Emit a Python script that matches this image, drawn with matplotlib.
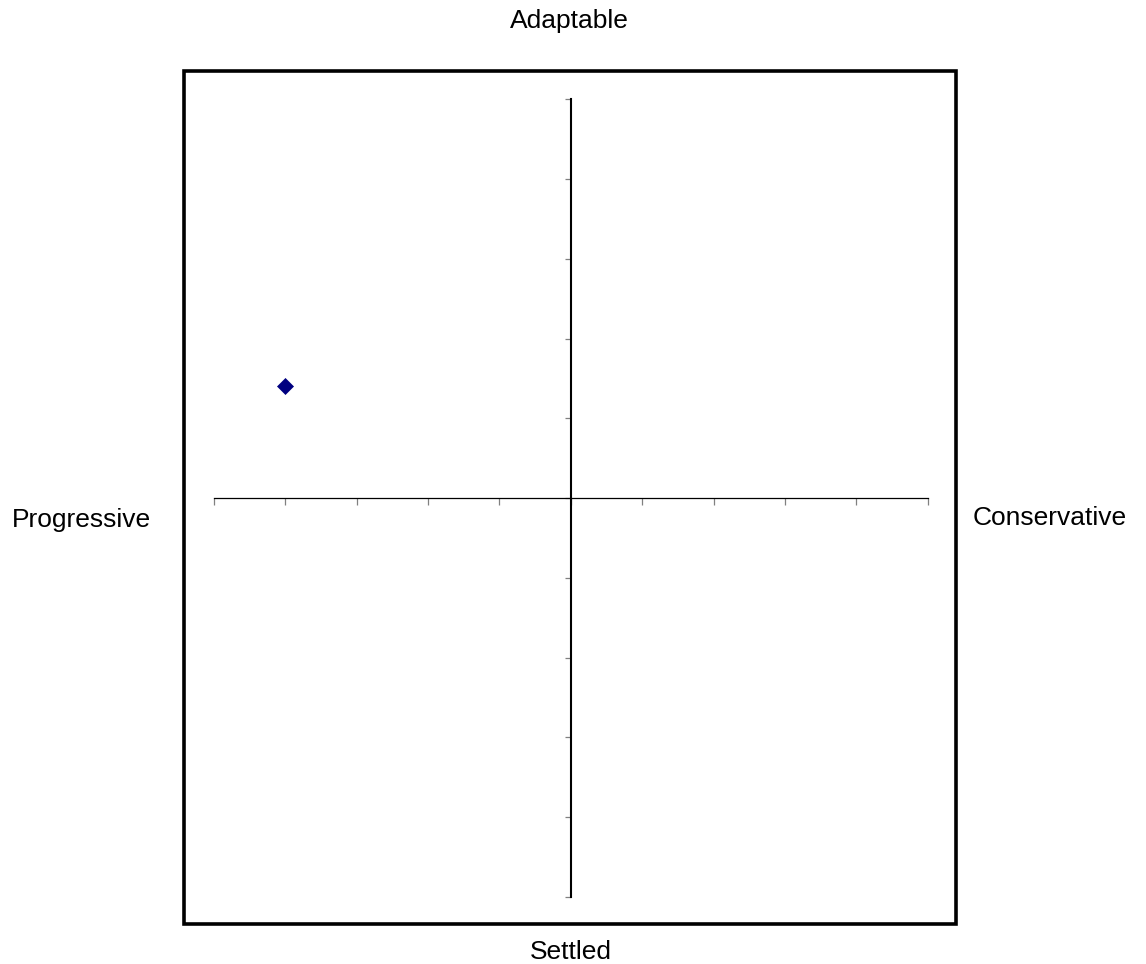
import matplotlib.pyplot as plt
import numpy as np
from matplotlib.patches import Rectangle

plt.rcParams["font.family"] = ["Liberation Sans", "DejaVu Sans"]

# Data
x_vals = [-4]
y_vals = [1.4]
x_ticks = np.arange(-5, 6, 1)
y_ticks = np.arange(-5, 6, 1)

# Quadrant labels
top_label = "Adaptable"
bottom_label = "Settled"
left_label = "Progressive"
right_label = "Conservative"

W, H = 1146, 964
fig = plt.figure(figsize=(W / 100, H / 100), dpi=100)

# Outer frame
fig.patches.append(Rectangle((183.7 / W, 1 - 924.3 / H), (956 - 183.7) / W, (924.3 - 71) / H,
                             transform=fig.transFigure, fill=False, edgecolor="black",
                             linewidth=2.6, zorder=0))

# Plot area with crossed axes
ax = fig.add_axes([214 / W, 1 - 897 / H, 713.7 / W, 797.7 / H])
ax.set_facecolor("none")
ax.set_xlim(-5, 5)
ax.set_ylim(-5, 5)

ax.spines["left"].set_position("zero")
ax.spines["bottom"].set_position("zero")
ax.spines["top"].set_visible(False)
ax.spines["right"].set_visible(False)
ax.spines["left"].set_linewidth(1.5)
ax.spines["bottom"].set_linewidth(0.9)

ax.set_xticks(x_ticks)
ax.set_yticks(y_ticks)
ax.set_xticklabels([])
ax.set_yticklabels([])
ax.tick_params(axis="x", direction="out", length=5, width=0.9, color="#808080")
ax.tick_params(axis="y", direction="out", length=4.5, width=0.9, color="#808080")

ax.plot(x_vals, y_vals, linestyle="none", marker="D", markersize=8,
        color="#000080", markeredgecolor="#000080", markeredgewidth=0.5, clip_on=False)

fig.text(569 / W, 1 - 28 / H, top_label, ha="center", va="baseline", fontsize=19)
fig.text(571 / W, 1 - 959 / H, bottom_label, ha="center", va="baseline", fontsize=19)
fig.text(81.5 / W, 1 - 527 / H, left_label, ha="center", va="baseline", fontsize=19)
fig.text(1049.5 / W, 1 - 525 / H, right_label, ha="center", va="baseline", fontsize=19)

fig.savefig("out.png", dpi=100)
